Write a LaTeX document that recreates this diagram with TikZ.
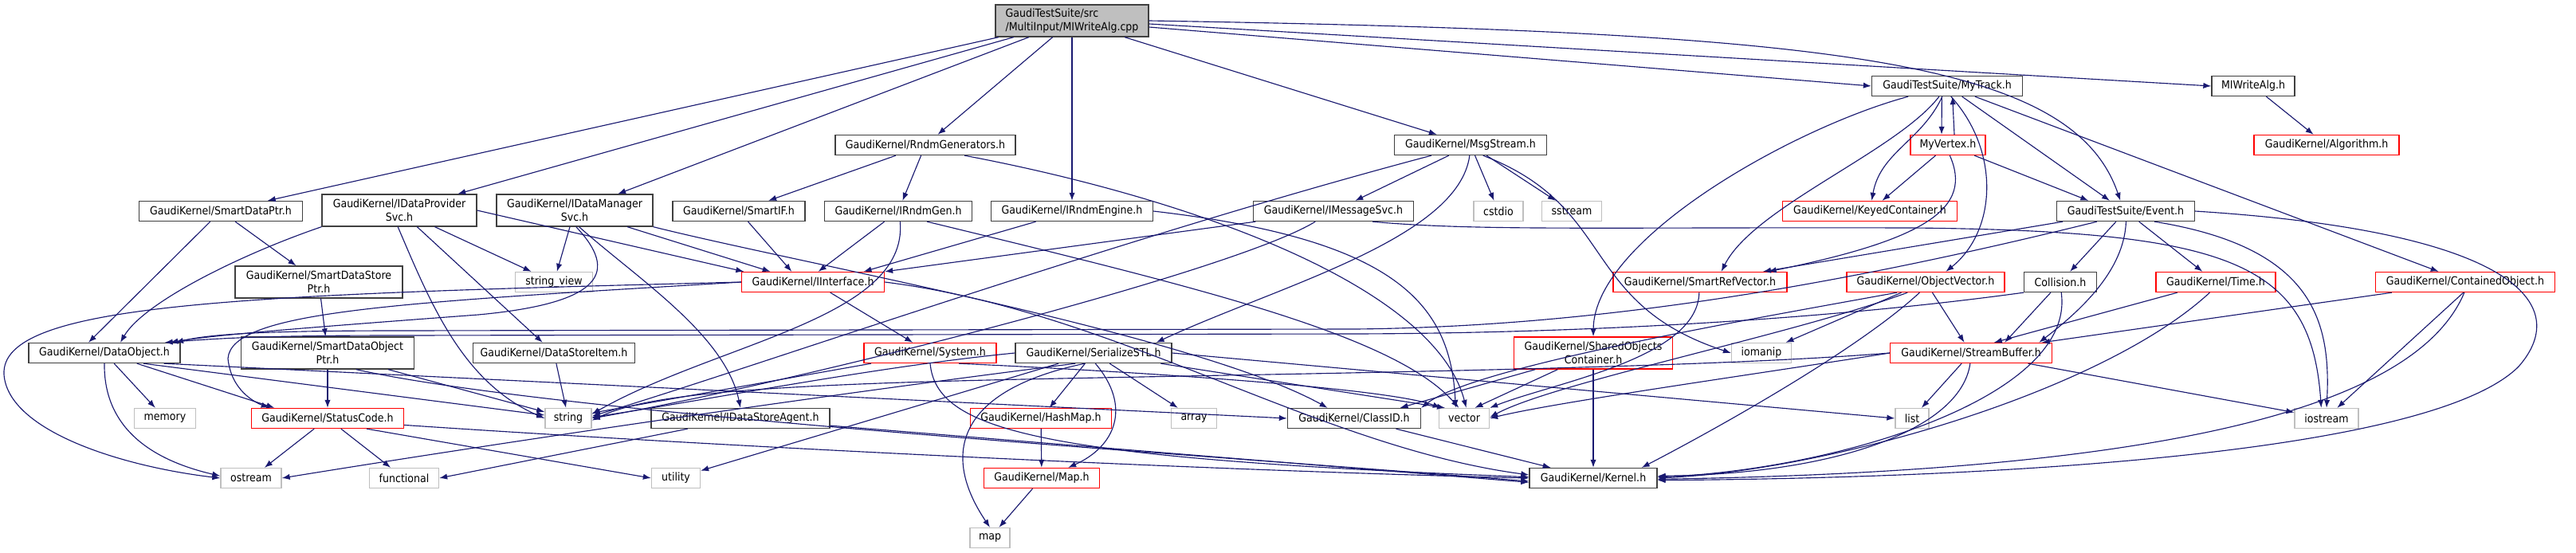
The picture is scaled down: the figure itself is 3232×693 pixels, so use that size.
\documentclass[tikz,border=0pt]{standalone}
\usepackage{fontspec}
\setmainfont{DejaVu Sans}[FakeStretch=0.9]
\usetikzlibrary{arrows.meta}
\definecolor{eb}{HTML}{191970}
\definecolor{docb}{HTML}{404040}
\definecolor{sysb}{HTML}{BFBFBF}
\definecolor{redb}{HTML}{FF0000}
\definecolor{rootf}{HTML}{BFBFBF}
\begin{document}
\begin{tikzpicture}[x=0.75pt,y=-0.75pt,
  box/.style={draw, fill=white, line width=1pt, inner sep=0pt, minimum height=18.75pt,
    font=\fontsize{10.5}{12.5}\selectfont, text=black},
  w/.style={minimum width=#1*0.75pt},
  doc/.style={box, draw=docb},
  rb/.style={box, draw=redb},
  sb/.style={box, draw=sysb},
  two/.style={minimum height=30pt, align=center},
  e/.style={draw=eb, line width=0.85pt, -{Latex[length=7.5pt,width=5.5pt]}}]
\useasboundingbox (0,0) rectangle (3232,693);
% ---------- nodes ----------
\node[doc, w=192, two, fill=rootf, align=left] (root) at (1345,26) {GaudiTestSuite/src\\/MultiInput/MIWriteAlg.cpp};
\node[doc, w=189] (track) at (2443,108) {GaudiTestSuite/MyTrack.h};
\node[doc, w=104] (mwa) at (2827,108) {MIWriteAlg.h};
\node[doc, w=226] (rndm) at (1161,182) {GaudiKernel/RndmGenerators.h};
\node[doc, w=191] (msg) at (1845,182) {GaudiKernel/MsgStream.h};
\node[rb, w=94] (vertex) at (2444,182) {MyVertex.h};
\node[rb, w=182] (alg) at (2919,182) {GaudiKernel/Algorithm.h};
\node[doc, w=205] (sdp) at (277,265) {GaudiKernel/SmartDataPtr.h};
\node[doc, w=194, two] (idps) at (501,264) {GaudiKernel/IDataProvider\\Svc.h};
\node[doc, w=196, two] (idms) at (721,264) {GaudiKernel/IDataManager\\Svc.h};
\node[doc, w=166] (sif) at (927,265) {GaudiKernel/SmartIF.h};
\node[doc, w=185] (irg) at (1127,265) {GaudiKernel/IRndmGen.h};
\node[doc, w=203] (ire) at (1345,265) {GaudiKernel/IRndmEngine.h};
\node[doc, w=201] (ims) at (1673,265) {GaudiKernel/IMessageSvc.h};
\node[sb, w=62] (cstdio) at (1880,265) {cstdio};
\node[sb, w=75] (sstream) at (1972,265) {sstream};
\node[rb, w=219] (keyed) at (2346,265) {GaudiKernel/KeyedContainer.h};
\node[doc, w=173] (event) at (2667,265) {GaudiTestSuite/Event.h};
\node[doc, w=210, two] (sdsp) at (400,354) {GaudiKernel/SmartDataStore\\Ptr.h};
\node[sb, w=97] (sview) at (695,354) {string\_view};
\node[rb, w=179] (iif) at (1020,354) {GaudiKernel/IInterface.h};
\node[rb, w=218] (srv) at (2133,354) {GaudiKernel/SmartRefVector.h};
\node[rb, w=198] (ov) at (2416,354) {GaudiKernel/ObjectVector.h};
\node[doc, w=91] (coll) at (2585,354) {Collision.h};
\node[rb, w=150] (time) at (2780,354) {GaudiKernel/Time.h};
\node[rb, w=225] (cobj) at (3093,354) {GaudiKernel/ContainedObject.h};
\node[doc, w=190] (dobj) at (131,443) {GaudiKernel/DataObject.h};
\node[doc, w=217, two] (sdop) at (411,443) {GaudiKernel/SmartDataObject\\Ptr.h};
\node[doc, w=203] (dsi) at (695,443) {GaudiKernel/DataStoreItem.h};
\node[rb, w=166] (sys) at (1167,443) {GaudiKernel/System.h};
\node[doc, w=196] (sstl) at (1372,443) {GaudiKernel/SerializeSTL.h};
\node[rb, w=199, two] (soc) at (1999,443) {GaudiKernel/SharedObjects\\Container.h};
\node[sb, w=75] (iomanip) at (2210,443) {iomanip};
\node[rb, w=203] (sbuf) at (2473,443) {GaudiKernel/StreamBuffer.h};
\node[sb, w=77] (memory) at (207,525) {memory};
\node[rb, w=191] (sc) at (411,525) {GaudiKernel/StatusCode.h};
\node[sb, w=58] (string) at (713,525) {string};
\node[doc, w=224] (idsa) at (929,525) {GaudiKernel/IDataStoreAgent.h};
\node[rb, w=177] (hash) at (1306,525) {GaudiKernel/HashMap.h};
\node[sb, w=57] (array) at (1498,525) {array};
\node[doc, w=167] (classid) at (1699,525) {GaudiKernel/ClassID.h};
\node[sb, w=63] (vector) at (1837,525) {vector};
\node[sb, w=42] (list) at (2399,525) {list};
\node[sb, w=80] (iostream) at (2919,525) {iostream};
\node[sb, w=76] (ostream) at (315,600) {ostream};
\node[sb, w=87] (functional) at (507,600) {functional};
\node[sb, w=61] (utility) at (848,600) {utility};
\node[rb, w=145] (maph) at (1307,600) {GaudiKernel/Map.h};
\node[doc, w=160] (kernel) at (1999,600) {GaudiKernel/Kernel.h};
\node[sb, w=50] (map) at (1242,675) {map};
% ---------- edges ----------
% root
\draw[e] (root) -- (sdp);
\draw[e] (root) -- (idps);
\draw[e] (root) -- (idms);
\draw[e] (root) -- (rndm);
\draw[e] (root.south -| ire.north) -- (ire.north);
\draw[e] (root) -- (msg);
\draw[e] ([yshift=-6pt]root.east) -- (track.west);
\draw[e] ([yshift=-3pt]root.east) -- (mwa.west);
\draw[e] ([yshift=0pt]root.east) .. controls (2300,40) and (2600,75) .. ([xshift=-5pt]event.north);
\draw[e] (mwa) -- (alg);
% MyTrack / MyVertex
\draw[e] ([xshift=-5pt]track.south) -- ([xshift=-6pt]vertex.north);
\draw[e] ([xshift=6pt]vertex.north) -- ([xshift=5pt]track.south);
\draw[e] (track) to[out=-115,in=80] (keyed);
\draw[e] (vertex) -- (keyed);
\draw[e] (vertex) -- ([xshift=-35pt]event.north);
\draw[e] (track) -- ([xshift=-15pt]event.north);
\draw[e] (track) .. controls (2380,190) and (2200,260) .. ([xshift=20pt]srv.north);
\draw[e] (track.-70) .. controls (2510,190) and (2505,290) .. ([xshift=19pt]ov.north);
\draw[e] (track) .. controls (2250,160) and (2000,300) .. (soc.north);
\draw[e] (track) -- ([xshift=-25pt]cobj.north);
\draw[e] (vertex.-80) .. controls (2475,260) and (2420,300) .. ([xshift=-18pt]srv.north east);
% Event
\draw[e] (event) -- (srv);
\draw[e] (event) -- (coll);
\draw[e] (event) -- (time);
\draw[e] (event.-88) .. controls (2665,340) and (2610,390) .. ([xshift=64pt]sbuf.north);
\draw[e] (event.-20) .. controls (2900,310) and (2925,400) .. (iostream.north);
\draw[e] (event.east) .. controls (3150,290) and (3230,380) .. (3160,460) .. controls (3050,570) and (2500,600) .. ([yshift=-2pt]kernel.east);
\draw[e] (event.200) .. controls (2300,360) and (2000,410) .. (1700,413) -- (500,415) .. controls (320,415) and (260,420) .. ([xshift=-5pt]dobj.north east);
% Collision, Time, ContainedObject
\draw[e] (coll) -- ([xshift=-45pt]sbuf.north east);
\draw[e] (coll.south west) .. controls (2300,400) and (2000,418) .. (1700,419) -- (500,421) .. controls (320,421) and (270,425) .. ([xshift=-15pt]dobj.north east);
\draw[e] (coll.-85) .. controls (2605,500) and (2300,590) .. ([yshift=1pt]kernel.east);
\draw[e] (time) -- ([xshift=-55pt]sbuf.north east);
\draw[e] (time.-120) .. controls (2640,490) and (2300,590) .. (kernel.east);
\draw[e] (cobj) -- ([xshift=-10pt]sbuf.north east);
\draw[e] (cobj.-100) -- ([xshift=10pt]iostream.north);
\draw[e] (cobj.-95) .. controls (3040,490) and (2800,590) .. ([yshift=-1pt]kernel.east);
% StreamBuffer
\draw[e] (sbuf) -- (list);
\draw[e] (sbuf) -- (iostream);
\draw[e] (sbuf.-95) .. controls (2460,540) and (2300,595) .. ([yshift=2pt]kernel.east);
\draw[e] (sbuf.west) .. controls (2200,470) and (1950,505) .. (vector.east);
\draw[e] (sbuf.west) .. controls (2100,465) and (1500,470) .. (1200,478) .. controls (900,486) and (800,500) .. ([yshift=-2pt]string.east);
% ObjectVector
\draw[e] (ov) -- (iomanip);
\draw[e] (ov) -- (sbuf);
\draw[e] (ov.-150) .. controls (2250,420) and (1950,480) .. ([yshift=1pt]vector.east);
\draw[e] (ov.-160) .. controls (2200,400) and (1850,460) .. (classid.north east);
\draw[e] (ov.-120) .. controls (2330,440) and (2150,540) .. ([xshift=-15pt]kernel.north east);
% SharedObjectsContainer, SmartRefVector
\draw[e] (soc) -- ([xshift=-20pt]classid.north east);
\draw[e] (soc) -- ([xshift=10pt]vector.north);
\draw[e] (soc.south) -- (kernel.north);
\draw[e] (srv.-95) .. controls (2130,450) and (1950,480) .. (vector.north east);
% RndmGenerators etc.
\draw[e] (rndm) -- (sif);
\draw[e] (rndm) -- (irg);
\draw[e] (rndm.-15) .. controls (1500,250) and (1800,360) .. ([xshift=2pt]vector.north);
\draw[e] (sif) -- ([xshift=-20pt]iif.north);
\draw[e] (irg) -- ([xshift=5pt]iif.north);
\draw[e] (irg.-80) .. controls (1140,400) and (900,430) .. ([yshift=4pt]string.east);
\draw[e] (irg.-20) .. controls (1500,360) and (1750,420) .. ([xshift=-5pt]vector.north);
\draw[e] (ire) -- ([xshift=-20pt]iif.north east);
\draw[e] (ire.east) .. controls (1750,300) and (1820,380) .. ([xshift=-8pt]vector.north);
% MsgStream
\draw[e] (msg) -- (ims);
\draw[e] (msg) -- (cstdio);
\draw[e] (msg) -- (sstream);
\draw[e] (msg.-95) .. controls (1830,300) and (1600,360) .. ([xshift=-15pt]sstl.north east);
\draw[e] (msg.195) .. controls (1400,300) and (950,460) .. ([yshift=2pt]string.east);
\draw[e] (msg.-40) .. controls (2030,260) and (1980,380) .. (iomanip.west);
% IMessageSvc
\draw[e] (ims) -- (iif.north east);
\draw[e] (ims.-150) .. controls (1550,340) and (1000,480) .. (string.east);
\draw[e] (ims.-15) .. controls (1850,290) and (2000,285) .. (2400,286) .. controls (2800,290) and (2900,330) .. ([xshift=-5pt]iostream.north);
% IDataProviderSvc / IDataManagerSvc
\draw[e] (idps.south west) .. controls (300,320) and (180,380) .. ([xshift=15pt]dobj.north);
\draw[e] (idps) -- (dsi);
\draw[e] (idps.-95) .. controls (540,380) and (580,480) .. (string.west);
\draw[e] (idps) -- (sview);
\draw[e] (idps.east) -- ([xshift=-65pt]iif.north);
\draw[e] (idms) -- (sview);
\draw[e] (idms) -- ([xshift=-40pt]iif.north);
\draw[e] (idms.-75) .. controls (800,350) and (910,420) .. (idsa.north);
\draw[e] (idms.-85) .. controls (775,340) and (760,380) .. (600,395) .. controls (400,410) and (270,420) .. ([xshift=-10pt]dobj.north east);
\draw[e] (idms.south east) .. controls (1000,330) and (1500,420) .. ([xshift=-25pt]classid.north);
% SmartDataPtr chain
\draw[e] (sdp) -- ([xshift=-15pt]dobj.north);
\draw[e] (sdp) -- (sdsp);
\draw[e] (sdsp) -- (sdop);
\draw[e] (sdop) -- (sc);
\draw[e] (sdop) -- (string);
\draw[e] (sdop.-30) .. controls (700,520) and (1500,570) .. ([yshift=-3pt]kernel.west);
\draw[e] (dsi) -- (string);
% IInterface
\draw[e] (iif) -- (sys);
\draw[e] (iif.east) .. controls (1400,390) and (1650,560) .. ([yshift=3pt]kernel.west);
\draw[e] (iif.west) .. controls (300,370) and (0,380) .. (5,470) .. controls (10,540) and (150,585) .. (ostream.west);
\draw[e] (iif.west) .. controls (500,380) and (290,390) .. (286,450) .. controls (290,490) and (320,505) .. ([xshift=-55pt]sc.north);
% DataObject
\draw[e] (dobj) -- (memory);
\draw[e] (dobj) -- ([xshift=-50pt]sc.north);
\draw[e] (dobj.-90) .. controls (130,530) and (180,575) .. ([yshift=2pt]ostream.west);
\draw[e] (dobj.-15) -- ([yshift=3pt]string.west);
\draw[e] (dobj.-10) -- (classid.west);
% StatusCode
\draw[e] (sc) -- (ostream);
\draw[e] (sc) -- (functional);
\draw[e] (sc.-15) -- (utility.west);
\draw[e] (sc.-5) .. controls (900,560) and (1500,590) .. (kernel.west);
% System
\draw[e] (sys) -- ([yshift=5pt]string.east);
\draw[e] (sys.south) .. controls (1175,540) and (1300,575) .. ([yshift=1pt]kernel.west);
\draw[e] (sys.-20) .. controls (1500,470) and (1750,490) .. ([xshift=-22pt]vector.north);
% SerializeSTL
\draw[e] (sstl) -- (hash);
\draw[e] (sstl.-80) .. controls (1420,510) and (1400,560) .. ([xshift=-30pt]maph.north east);
\draw[e] (sstl.-130) .. controls (1200,490) and (1180,570) .. (map.north);
\draw[e] (sstl) -- (array);
\draw[e] (sstl) -- (utility);
\draw[e] (sstl.east) -- (list.west);
\draw[e] (sstl) -- ([xshift=-18pt]vector.north);
\draw[e] (sstl.west) .. controls (1100,460) and (900,500) .. ([yshift=1pt]string.east);
\draw[e] (sstl.-150) .. controls (1000,500) and (600,560) .. (ostream.east);
\draw[e] (hash) -- (maph);
\draw[e] (maph) -- (map);
% others
\draw[e] (idsa) -- ([yshift=-4pt]kernel.west);
\draw[e] (idsa) -- (functional.east);
\draw[e] (classid) -- ([xshift=-40pt]kernel.north);
\end{tikzpicture}
\end{document}
